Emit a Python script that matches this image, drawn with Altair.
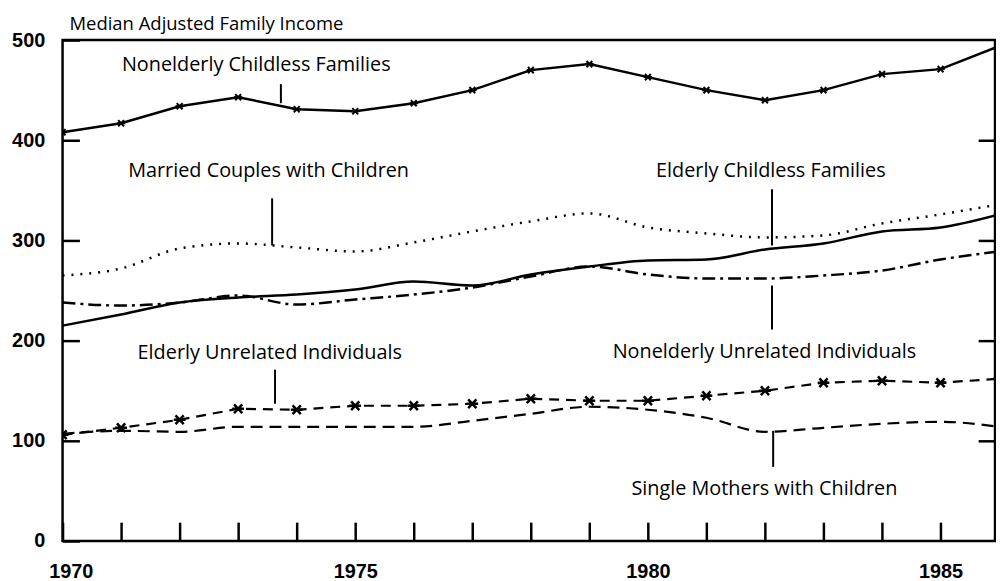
import altair as alt
import pandas as pd

# ---- data ----
years = list(range(1970, 1987))
nonelderly_childless = [408, 417, 434, 443, 431, 429, 437, 450, 470, 476, 463, 450, 440, 450, 466, 471, 494]
married_with_children = [265, 272, 292, 297, 293, 289, 298, 309, 319, 327, 313, 307, 303, 305, 317, 326, 336]
elderly_childless = [215, 226, 238, 243, 246, 251, 259, 255, 266, 274, 280, 281, 291, 297, 309, 313, 326]
nonelderly_unrelated = [238, 235, 238, 245, 236, 241, 246, 253, 264, 274, 266, 262, 262, 265, 270, 281, 289]
elderly_unrelated = [106, 113, 121, 132, 131, 135, 135, 137, 142, 140, 140, 145, 150, 158, 160, 158, 162]
single_mothers = [107, 110, 109, 114, 114, 114, 114, 120, 127, 134, 131, 123, 109, 113, 117, 119, 114]

tick_years = list(range(1970, 1986))
y_ticks = [0, 100, 200, 300, 400, 500]
right_ticks = [100, 200, 300, 400]

label_text = [
    "Nonelderly Childless Families",
    "Married Couples with Children",
    "Elderly Childless Families",
    "Elderly Unrelated Individuals",
    "Nonelderly Unrelated Individuals",
    "Single Mothers with Children",
]
label_year = [1973.31, 1973.52, 1982.10, 1973.54, 1981.99, 1981.99]
label_value = [475, 369, 369, 188, 189, 52]

leader_year = [1973.73, 1973.58, 1982.12, 1982.12, 1973.63, 1982.14]
leader_top = [456, 342, 351, 255, 171, 110]
leader_bottom = [437, 295, 295, 211, 137, 74]

# ---- chart ----
xscale = alt.Scale(domain=[1970, 1985.93], nice=False, zero=False)
yscale = alt.Scale(domain=[0, 500], nice=False)

tick_font = "Liberation Sans"
text_font = "Open Sans"

xaxis = alt.Axis(
    orient="bottom", values=tick_years, offset=-19, tickSize=19, tickWidth=2.5, tickColor="black",
    domain=False, grid=False, format="d",
    labelExpr="(datum.value % 5 == 0) ? datum.label : ''",
    labelFont=tick_font, labelFontWeight="bold", labelFontSize=20, labelColor="black",
    labelPadding=21, labelOverlap=False, labelFlush=True, labelFlushOffset=14, title=None,
)
yaxis_left = alt.Axis(
    orient="left", values=y_ticks, offset=-17, tickSize=17, tickWidth=2.5, tickColor="black",
    domain=False, grid=False, labelFont=tick_font, labelFontWeight="bold", labelFontSize=20,
    labelColor="black", labelPadding=18, labelOverlap=False, title=None,
)
yaxis_right = alt.Axis(
    orient="right", values=right_ticks, offset=-17, tickSize=17, tickWidth=2.5, tickColor="black",
    domain=False, grid=False, labels=False, title=None,
)


def frame(vals):
    return pd.DataFrame({"year": years, "value": vals})


def line_layer(vals, xaxis_, yaxis, **mark):
    return alt.Chart(frame(vals)).mark_line(color="black", clip=True, **mark).encode(
        x=alt.X("year:Q", scale=xscale, axis=xaxis_),
        y=alt.Y("value:Q", scale=yscale, axis=yaxis),
    )


star_path = "M-1,0L1,0M-0.7,-0.75L0.7,0.75M-0.7,0.75L0.7,-0.75"

ncf = line_layer(nonelderly_childless, xaxis, yaxis_left, strokeWidth=2.5)
ncf_pts = alt.Chart(frame(nonelderly_childless)).mark_point(
    shape=star_path, size=70, filled=False, color="black", strokeWidth=2, opacity=1, clip=True
).encode(x=alt.X("year:Q", scale=xscale, axis=None), y=alt.Y("value:Q", scale=yscale, axis=None))

mcc = line_layer(married_with_children, None, yaxis_right, strokeWidth=2.5, strokeDash=[2, 7],
                 interpolate="monotone")
ecf = line_layer(elderly_childless, None, None, strokeWidth=2.5, interpolate="monotone")
nui = line_layer(nonelderly_unrelated, None, None, strokeWidth=2.5, strokeDash=[13, 5, 3, 5],
                 interpolate="monotone")
eui = line_layer(elderly_unrelated, None, None, strokeWidth=2.2, strokeDash=[10, 7])
eui_pts = alt.Chart(frame(elderly_unrelated)).mark_point(
    shape=star_path, size=140, filled=False, color="black", strokeWidth=2.5, opacity=1, clip=True
).encode(x=alt.X("year:Q", scale=xscale, axis=None), y=alt.Y("value:Q", scale=yscale, axis=None))
smc = line_layer(single_mothers, None, None, strokeWidth=2.2, strokeDash=[12, 7], interpolate="monotone")

labels = alt.Chart(pd.DataFrame({"text": label_text, "year": label_year, "value": label_value})).mark_text(
    font=text_font, fontSize=20, align="center", baseline="middle", color="black"
).encode(
    x=alt.X("year:Q", scale=xscale, axis=None),
    y=alt.Y("value:Q", scale=yscale, axis=None),
    text="text:N",
)

leaders = alt.Chart(pd.DataFrame({"year": leader_year, "top": leader_top, "bottom": leader_bottom})).mark_rule(
    color="black", strokeWidth=2
).encode(
    x=alt.X("year:Q", scale=xscale, axis=None),
    y=alt.Y("top:Q", scale=yscale, axis=None),
    y2="bottom:Q",
)

chart = alt.layer(ncf, mcc, ecf, nui, smc, eui, ncf_pts, eui_pts, leaders, labels).resolve_scale(
    y="shared", x="shared"
).resolve_axis(y="independent", x="independent").properties(
    width=940,
    height=505,
    autosize=alt.AutoSizeParams(type="none"),
    padding={"left": 55, "top": 30, "right": 1, "bottom": 38},
    background="white",
    title=alt.TitleParams(
        text="Median Adjusted Family Income", anchor="start", frame="group", font=text_font,
        fontSize=18.6, fontWeight="normal", color="black", dx=7, dy=24, offset=6, baseline="alphabetic",
    ),
).configure_view(stroke="black", strokeWidth=2.5)

chart.save("out.html", embed_options={"renderer": "svg", "actions": False})
